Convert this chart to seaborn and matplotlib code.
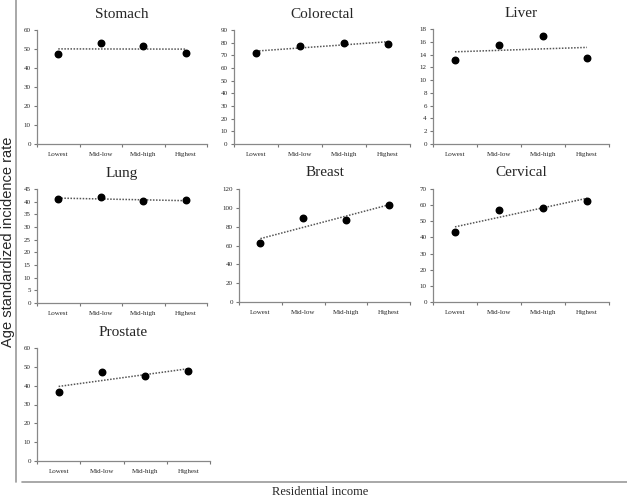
import numpy as np
import matplotlib
matplotlib.use("Agg")
import matplotlib.pyplot as plt
import seaborn as sns

sns.set_style("white")
plt.rcParams['font.family'] = ['Liberation Serif', 'DejaVu Serif']

income = ["Lowest", "Mid-low", "Mid-high", "Highest"]
cancers = ["Stomach", "Colorectal", "Liver", "Lung", "Breast", "Cervical", "Prostate"]
stomach = [47.4, 53.3, 51.4, 47.9]
colorectal = [71.6, 77.6, 80.0, 79.0]
liver = [13.2, 15.5, 16.9, 13.5]
lung = [41.1, 41.8, 40.2, 40.5]
breast = [62.3, 88.8, 87.1, 102.7]
cervical = [43.4, 57.3, 58.1, 62.8]
prostate = [36.7, 47.4, 45.2, 47.9]
y_max = [60, 90, 18, 45, 120, 70, 60]
y_step = [10, 10, 2, 5, 20, 10, 10]

series = [stomach, colorectal, liver, lung, breast, cervical, prostate]

W, H = 627, 499
fig = plt.figure(figsize=(W / 100, H / 100), dpi=100)

# panel boxes in pixels: left, top, right, bottom
lefts = [37, 234, 433, 37, 239, 433, 37]
rights = [207, 410, 609, 207, 410, 609, 210]
tops = [30, 30, 29, 189, 189, 189, 348]
bottoms = [144, 144, 144, 303, 302, 302, 461]

x = np.arange(1, len(income) + 1)
for i, name in enumerate(cancers):
    ax = fig.add_axes([lefts[i] / W, 1 - bottoms[i] / H,
                       (rights[i] - lefts[i]) / W, (bottoms[i] - tops[i]) / H])
    sns.regplot(x=x, y=series[i], ax=ax, ci=None, color="black", truncate=True,
                scatter_kws={"s": 22, "alpha": 1, "zorder": 3},
                line_kws={"ls": (0, (1, 1)), "lw": 1.1, "color": "#555555"})
    ax.set_xlim(0.5, len(income) + 0.5)
    ax.set_ylim(0, y_max[i])
    ax.set_yticks(np.arange(0, y_max[i] + 1, y_step[i]))
    ax.set_xticks(np.arange(0.5, len(income) + 1, 1))
    ax.set_xticklabels([])
    ax.set_xticks(x, minor=True)
    ax.set_xticklabels(income, minor=True)
    ax.tick_params(axis="x", which="major", length=2.5, width=0.8, color="#777777", direction="out")
    ax.tick_params(axis="x", which="minor", length=0, labelsize=5, pad=6)
    ax.tick_params(axis="y", length=2.5, width=0.8, color="#777777", direction="out", labelsize=5, pad=2)
    ax.tick_params(bottom=True, left=True)
    for s in ["top", "right"]:
        ax.spines[s].set_visible(False)
    for s in ["left", "bottom"]:
        ax.spines[s].set_color("#888888")
        ax.spines[s].set_linewidth(0.9)
    ax.set_xlabel("")
    ax.set_ylabel("")
    ax.set_title(name, fontsize=11, pad=9)

# outer frame lines
fig.add_artist(plt.Line2D([16 / W, 16 / W], [1 - 482 / H, 1.0], color="#999999", lw=1.2))
fig.add_artist(plt.Line2D([22 / W, 1.0], [1 - 482 / H, 1 - 482 / H], color="#999999", lw=1.2))

fig.text(8 / W, 1 - 242 / H, "Age standardized incidence rate", rotation=90, ha="center", va="center",
         fontsize=10.5, family=["Liberation Sans", "DejaVu Sans"])
fig.text(320 / W, 1 - 492 / H, "Residential income", ha="center", va="center", fontsize=9)

fig.savefig("out.png", dpi=100)
